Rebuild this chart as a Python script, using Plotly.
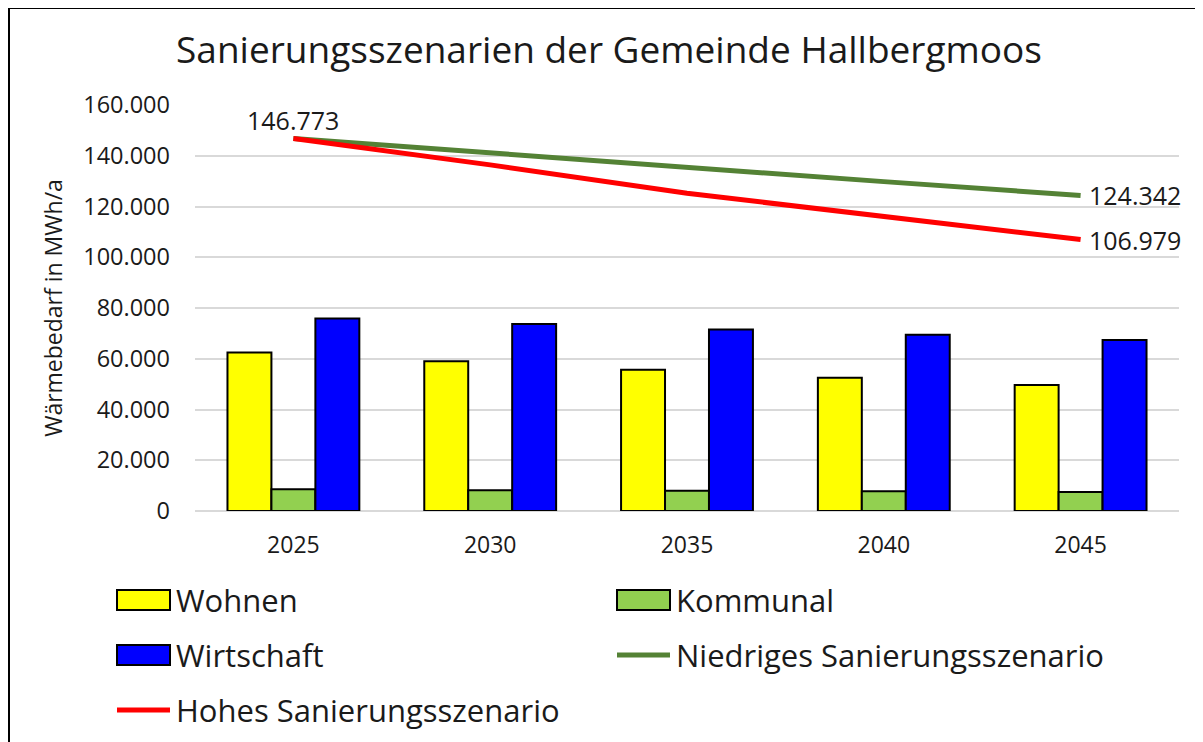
import plotly.graph_objects as go

years = ["2025", "2030", "2035", "2040", "2045"]
wohnen = [62500, 59000, 55700, 52500, 49700]
kommunal = [8550, 8150, 8000, 7750, 7500]
wirtschaft = [75900, 73700, 71500, 69500, 67400]
niedrig = [146773, 141000, 135400, 129800, 124342]
hoch = [146773, 136400, 125200, 116000, 106979]
y_ticks = [0, 20000, 40000, 60000, 80000, 100000, 120000, 140000, 160000]

FONT = "Open Sans"
TXT = "#1a1a1a"

# figure geometry (page has an 8px body margin)
W, H = 1195, 734
L, T, PW, PH = 187, 97, 984, 406
R = W - L - PW
B = H - T - PH


def px(fx):
    return (fx - L) / PW


def py(fy):
    return (T + PH - fy) / PH


def fmt(v):
    return f"{v:,}".replace(",", ".")


COL_YELLOW, COL_LGREEN, COL_BLUE = "#FFFF00", "#92D050", "#0000FF"
COL_DGREEN, COL_RED = "#548235", "#FF0000"

fig = go.Figure()
bar_line = dict(color="black", width=2)
fig.add_trace(go.Bar(x=years, y=wohnen, name="Wohnen",
                     marker=dict(color=COL_YELLOW, line=bar_line)))
fig.add_trace(go.Bar(x=years, y=kommunal, name="Kommunal",
                     marker=dict(color=COL_LGREEN, line=bar_line)))
fig.add_trace(go.Bar(x=years, y=wirtschaft, name="Wirtschaft",
                     marker=dict(color=COL_BLUE, line=bar_line)))
fig.add_trace(go.Scatter(x=years, y=niedrig, name="Niedriges Sanierungsszenario",
                         mode="lines", line=dict(color=COL_DGREEN, width=5)))
fig.add_trace(go.Scatter(x=years, y=hoch, name="Hohes Sanierungsszenario",
                         mode="lines", line=dict(color=COL_RED, width=5)))

first_i, last_i = 0, len(years) - 1
lab_font = dict(size=25, family=FONT, color=TXT)
annotations = [
    dict(x=first_i, y=hoch[first_i], xref="x", yref="y", text=fmt(hoch[first_i]),
         showarrow=False, xanchor="center", yanchor="bottom", yshift=0, font=lab_font),
    dict(x=last_i, y=niedrig[last_i], xref="x", yref="y", text=fmt(niedrig[last_i]),
         showarrow=False, xanchor="left", yanchor="middle", xshift=6, font=lab_font),
    dict(x=last_i, y=hoch[last_i], xref="x", yref="y", text=fmt(hoch[last_i]),
         showarrow=False, xanchor="left", yanchor="middle", xshift=6, font=lab_font),
]

# custom legend (page coords minus 8px body margin)
leg_font = dict(size=31, family=FONT, color=TXT)
legend_items = [
    ("Wohnen", "rect", COL_YELLOW, 109, 592),
    ("Kommunal", "rect", COL_LGREEN, 609, 592),
    ("Wirtschaft", "rect", COL_BLUE, 109, 647),
    ("Niedriges Sanierungsszenario", "line", COL_DGREEN, 609, 647),
    ("Hohes Sanierungsszenario", "line", COL_RED, 109, 702),
]
shapes = []
for name, kind, col, fx, fy in legend_items:
    if kind == "rect":
        shapes.append(dict(type="rect", xref="paper", yref="paper",
                           x0=px(fx), x1=px(fx + 53), y0=py(fy + 10), y1=py(fy - 10),
                           fillcolor=col, line=dict(color="black", width=2)))
    else:
        shapes.append(dict(type="line", xref="paper", yref="paper",
                           x0=px(fx), x1=px(fx + 53), y0=py(fy), y1=py(fy),
                           line=dict(color=col, width=5)))
    annotations.append(dict(x=px(fx + 57), y=py(fy), xref="paper", yref="paper",
                            text=name, showarrow=False, xanchor="left", yanchor="middle",
                            font=leg_font))

# chart border
shapes.append(dict(type="rect", xref="paper", yref="paper",
                   x0=px(1), x1=px(W + 50), y0=py(H + 50), y1=py(0),
                   line=dict(color="black", width=2), fillcolor="rgba(0,0,0,0)",
                   layer="above"))

fig.update_layout(
    width=W, height=H,
    margin=dict(l=L, r=R, t=T, b=B),
    paper_bgcolor="white", plot_bgcolor="white",
    separators=",.",
    font=dict(family=FONT, color=TXT),
    title=dict(text="Sanierungsszenarien der Gemeinde Hallbergmoos",
               x=601 / W, xanchor="center", y=1 - 42 / H, yanchor="middle",
               font=dict(size=37, family=FONT, color=TXT)),
    barmode="group", bargap=0.33, bargroupgap=0,
    showlegend=False,
    xaxis=dict(type="category", range=[-0.5, 4.5], autorange=False,
               showgrid=False, showline=False, ticks="",
               ticklabelstandoff=18,
               tickfont=dict(size=23, family=FONT, color=TXT)),
    yaxis=dict(range=[0, 160000], tickvals=y_ticks, tickformat=",d",
               showgrid=True, gridcolor="#D9D9D9", gridwidth=2,
               zeroline=True, zerolinecolor="#D9D9D9", zerolinewidth=2,
               tickfont=dict(size=23.5, family=FONT, color=TXT),
               ticklabelstandoff=24,
               title=dict(text="Wärmebedarf in MWh/a", standoff=14,
                          font=dict(size=23, family=FONT, color=TXT))),
    shapes=shapes,
    annotations=annotations,
)

fig.write_html("out.html")
